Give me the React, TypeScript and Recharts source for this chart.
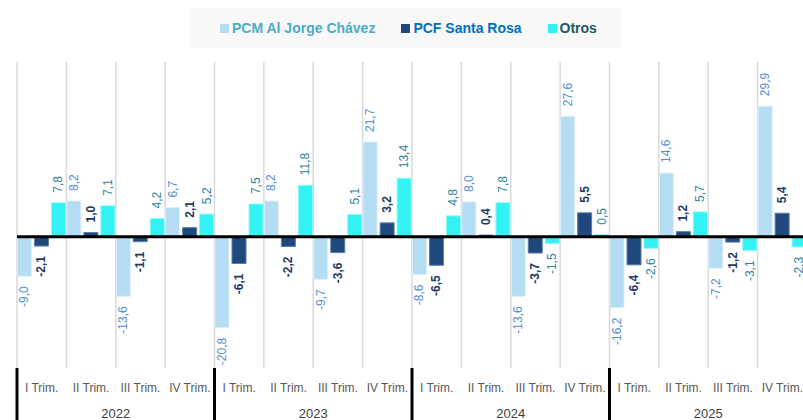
import React from 'react';
import { BarChart, Bar, XAxis, YAxis, CartesianGrid, ReferenceLine, LabelList } from 'recharts';

// quarterly variation by terminal, 2022-2025
const YEARS = ['2022', '2023', '2024', '2025'];
const QUARTERS = ['I Trim.', 'II Trim.', 'III Trim.', 'IV Trim.'];
const PCM = [-9.0, 8.2, -13.6, 6.7, -20.8, 8.2, -9.7, 21.7, -8.6, 8.0, -13.6, 27.6, -16.2, 14.6, -7.2, 29.9];
const PCF = [-2.1, 1.0, -1.1, 2.1, -6.1, -2.2, -3.6, 3.2, -6.5, 0.4, -3.7, 5.5, -6.4, 1.2, -1.2, 5.4];
const OTROS = [7.8, 7.1, 4.2, 5.2, 7.5, 11.8, 5.1, 13.4, 4.8, 7.8, -1.5, 0.5, -2.6, 5.7, -3.1, -2.3];

const SERIES = [
  { key: 'pcm', name: 'PCM Al Jorge Chávez', fill: '#B4DCF3', stroke: '#DDEFFA', label: '#558ED5', weight: 400, legend: '#4BACC6' },
  { key: 'pcf', name: 'PCF Santa Rosa', fill: '#1F497D', stroke: '#5B7BA3', label: '#1F3864', weight: 700, legend: '#0070C0' },
  { key: 'otros', name: 'Otros', fill: '#32F2F4', stroke: '#8FF7F8', label: '#31859C', weight: 400, legend: '#215967' },
];

const data = YEARS.flatMap((year, yi) =>
  QUARTERS.map((q, qi) => {
    const i = yi * 4 + qi;
    return { key: `${year}-${q}`, year, trim: q, pcm: PCM[i], pcf: PCF[i], otros: OTROS[i] };
  })
);

const W = 810;
const H = 420;
const MARGIN = { top: 62, right: 3, left: 17, bottom: 0 };
const BAND = (W - MARGIN.left - MARGIN.right) / data.length;
const PLOT_BOTTOM = H - 52;
const FONT = '"Liberation Sans", Arial, sans-serif';

const fmt = (v: number) => v.toFixed(1).replace('.', ',');

const makeLabel = (color: string, weight: number) => (props: any) => {
  const { x, y, width, height, value } = props;
  const top = Math.min(y, y + height);
  const bottom = Math.max(y, y + height);
  const cx = x + width / 2;
  const pos = value >= 0;
  const ay = pos ? top - 10 : bottom + 10;
  return (
    <text
      x={cx}
      y={ay}
      transform={`rotate(-90 ${cx} ${ay})`}
      textAnchor={pos ? 'start' : 'end'}
      dominantBaseline="central"
      fill={color}
      fontSize={12}
      fontWeight={weight}
      fontFamily={FONT}
    >
      {fmt(value)}
    </text>
  );
};

const TrimTick = ({ x, index }: any) => (
  <text x={x} y={392} textAnchor="middle" fill="#595959" fontSize={12} fontFamily={FONT}>
    {data[index]?.trim}
  </text>
);

const YearTick = ({ x, index }: any) => (
  <g>
    {index % 4 === 0 && (
      <line x1={x - BAND / 2} x2={x - BAND / 2} y1={PLOT_BOTTOM} y2={H} stroke="#000" strokeWidth={3} />
    )}
    {index % 4 === 1 && (
      <text x={x + BAND / 2} y={418} textAnchor="middle" fill="#404040" fontSize={13} fontFamily={FONT}>
        {data[index].year}
      </text>
    )}
  </g>
);

const App = () => (
  <div style={{ position: 'absolute', left: 0, top: 0, width: 803, height: H, overflow: 'hidden', background: '#fff' }}>
    <div
      style={{
        position: 'absolute',
        left: 190,
        top: 8,
        width: 432,
        height: 40,
        background: '#F8F8F8',
        display: 'flex',
        alignItems: 'center',
        paddingLeft: 30,
        boxSizing: 'border-box',
        gap: 26,
        fontFamily: FONT,
        fontWeight: 700,
        fontSize: 14,
        zIndex: 2,
      }}
    >
      {SERIES.map((s) => (
        <div key={s.key} style={{ display: 'flex', alignItems: 'center', color: s.legend }}>
          <span style={{ width: 9, height: 9, background: s.fill, marginRight: 3, display: 'inline-block' }} />
          {s.name}
        </div>
      ))}
    </div>
    <BarChart width={W} height={H} data={data} margin={MARGIN} barGap={3} barCategoryGap={0.5}>
      <CartesianGrid
        horizontal={false}
        stroke="#D9D9D9"
        strokeWidth={1.5}
        verticalCoordinatesGenerator={({ offset }: any) =>
          Array.from({ length: data.length + 1 }, (_, i) => offset.left + (i * offset.width) / data.length)
        }
      />
      <XAxis dataKey="key" interval={0} axisLine={false} tickLine={false} height={26} tick={<TrimTick />} />
      <XAxis xAxisId="year" dataKey="key" interval={0} axisLine={false} tickLine={false} height={26} tick={<YearTick />} />
      <YAxis hide domain={[-30, 40]} />
      {SERIES.map((s) => (
        <Bar key={s.key} dataKey={s.key} name={s.name} fill={s.fill} stroke={s.stroke} strokeWidth={1} isAnimationActive={false}>
          <LabelList dataKey={s.key} content={makeLabel(s.label, s.weight)} />
        </Bar>
      ))}
      <ReferenceLine y={0} stroke="#000" strokeWidth={3} />
    </BarChart>
  </div>
);

export default App;
